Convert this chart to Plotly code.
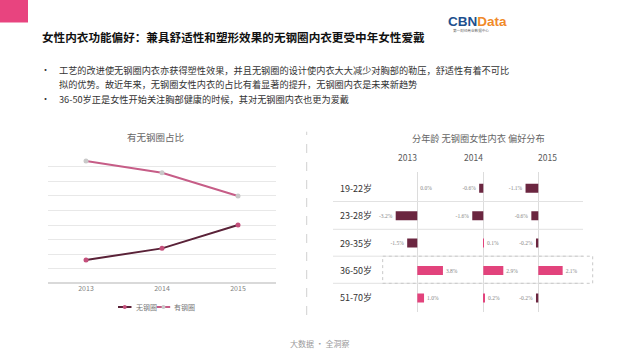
import plotly.graph_objects as go

W, H = 640, 360

# ---------------- data ----------------
years = ["2013", "2014", "2015"]
with_wire = [84, 76, 60]      # 有钢圈 (%)
without_wire = [16, 24, 40]   # 无钢圈 (%)

age_groups = ["19-22岁", "23-28岁", "29-35岁", "36-50岁", "51-70岁"]
pref_2013 = [0.0, -3.2, -1.5, 3.8, 1.0]
pref_2014 = [-0.6, -1.6, 0.1, 2.9, 0.2]
pref_2015 = [-1.1, -0.6, -0.2, 2.1, -0.2]

title_text = "女性内衣功能偏好：兼具舒适性和塑形效果的无钢圈内衣更受中年女性爱戴"
bullets = [
    "工艺的改进使无钢圈内衣亦获得塑性效果，并且无钢圈的设计使内衣大大减少对胸部的勒压，舒适性有着不可比",
    "拟的优势。故近年来，无钢圈女性内衣的占比有着显著的提升，无钢圈内衣是未来新趋势",
    "36-50岁正是女性开始关注胸部健康的时候，其对无钢圈内衣也更为爱戴",
]

FONT = "Noto Sans CJK SC"
DARK = "#6b2640"
PINK = "#e2437c"


def px(x):
    return x / W


def py(y):
    return 1 - y / H


fig = go.Figure()

# ---------------- left line chart ----------------
fig.add_trace(go.Scatter(
    x=years, y=without_wire, name="无钢圈", mode="lines+markers",
    line=dict(color="#5a2238", width=2), marker=dict(color="#c44f7b", size=5),
    xaxis="x", yaxis="y", showlegend=False))
fig.add_trace(go.Scatter(
    x=years, y=with_wire, name="有钢圈", mode="lines+markers",
    line=dict(color="#c65d87", width=2), marker=dict(color="#c9c9c9", size=5),
    xaxis="x", yaxis="y", showlegend=False))

# ---------------- right bar chart ----------------
cols = [
    ("x2", pref_2013, 417.3, 6.75, 384, 462),
    ("x3", pref_2014, 483.3, 6.9, 462, 520),
    ("x4", pref_2015, 538.3, 11.6, 520, 592),
]
for ax, vals, zero_px, scale, d0, d1 in cols:
    fig.add_trace(go.Bar(
        x=vals, y=age_groups, orientation="h", xaxis=ax, yaxis="y2",
        marker=dict(color=[PINK if v > 0 else DARK for v in vals], line=dict(width=0)),
        width=0.33, text=[f"{v:.1f}%" for v in vals], textposition="outside",
        textfont=dict(size=5.5, color="#888888", family="Liberation Serif"),
        cliponaxis=False, showlegend=False))
    key = "xaxis" + ax[1:]
    fig.layout[key] = dict(
        domain=[px(d0), px(d1)], range=[(d0 - zero_px) / scale, (d1 - zero_px) / scale],
        anchor="y2", showgrid=False, showticklabels=False, ticks="",
        zeroline=True, zerolinecolor="#dcdcdc", zerolinewidth=1, fixedrange=True)

row0, rowstep = 188.3, 27.4
ytop, ybot = 171.7, 311.7

fig.update_layout(
    width=W, height=H, margin=dict(l=0, r=0, t=0, b=0),
    paper_bgcolor="white", plot_bgcolor="rgba(0,0,0,0)",
    font=dict(family=FONT), bargap=0.5,
    xaxis=dict(domain=[px(48), px(276)], range=[-0.5, 2.5], type="category",
               showgrid=False, ticks="", tickfont=dict(size=7, color="#7f7f7f"),
               anchor="y", showline=False),
    yaxis=dict(domain=[py(283.3), py(152.3)], range=[0, 90], dtick=10,
               showgrid=True, gridcolor="#e8e8e8", gridwidth=1, zeroline=True,
               zerolinecolor="#d9d9d9", showticklabels=False, ticks="", anchor="x"),
    yaxis2=dict(domain=[py(ybot), py(ytop)], type="category",
                range=[(ybot - row0) / rowstep, (ytop - row0) / rowstep],
                showgrid=False, showticklabels=False, ticks="", zeroline=False,
                anchor="x2"),
)

shapes = []
annos = []

# header pink block
shapes.append(dict(type="rect", xref="paper", yref="paper", x0=0, x1=px(28),
                   y0=py(22.5), y1=1, fillcolor="#e8447f", line=dict(width=0)))

# title
annos.append(dict(text=f"<b>{title_text}</b>", x=px(40), y=py(36.7), xanchor="left",
                  yanchor="middle", font=dict(size=11.6, color="#111111")))

# logo
annos.append(dict(text="<b><span style='color:#1d4f8e'>CBN</span><span style='color:#f08a2a'>Data</span></b>",
                  x=px(477), y=py(21), xanchor="center", yanchor="middle",
                  font=dict(size=13.5, family="Liberation Sans")))
annos.append(dict(text="第一财经商业数据中心", x=px(451), y=py(30.5), xanchor="left",
                  yanchor="middle", font=dict(size=3.6, color="#666666")))

# bullets
for txt, y, dot in [(bullets[0], 70, True), (bullets[1], 83.5, False), (bullets[2], 98.5, True)]:
    if dot:
        annos.append(dict(text="•", x=px(45), y=py(y), xanchor="center", yanchor="middle",
                          font=dict(size=9, color="#333333")))
    annos.append(dict(text=txt, x=px(56.7), y=py(y), xanchor="left", yanchor="middle",
                      font=dict(size=9.2, color="#333333")))

# left chart title
annos.append(dict(text="有无钢圈占比", x=px(155), y=py(137), xanchor="center", yanchor="middle",
                  font=dict(size=9.5, color="#666666")))

# manual legend
leg = [("无钢圈", "#5a2238", "#c44f7b", 118, 134), ("有钢圈", "#c65d87", "#c9c9c9", 156.7, 172)]
for name, lc, mc, x0, tx in leg:
    shapes.append(dict(type="line", xref="paper", yref="paper", x0=px(x0), x1=px(x0 + 13.5),
                       y0=py(307), y1=py(307), line=dict(color=lc, width=2)))
    cx = x0 + 6.75
    shapes.append(dict(type="circle", xref="paper", yref="paper", x0=px(cx - 2), x1=px(cx + 2),
                       y0=py(309), y1=py(305), fillcolor=mc, line=dict(width=0)))
    annos.append(dict(text=name, x=px(tx), y=py(307), xanchor="left", yanchor="middle",
                      font=dict(size=7, color="#777777")))

# right chart title & headers
annos.append(dict(text="分年龄 无钢圈女性内衣 偏好分布", x=px(478.3), y=py(138), xanchor="center",
                  yanchor="middle", font=dict(size=9.2, color="#666666")))
for yr, x in zip(years, [407, 473, 547]):
    annos.append(dict(text=yr, x=px(x), y=py(157), xanchor="center", yanchor="middle",
                      font=dict(size=8.5, color="#595959")))

# row labels
for g in age_groups:
    annos.append(dict(text=g, x=px(338), xref="paper", y=g, yref="y2", xanchor="left",
                      yanchor="middle", font=dict(size=9, color="#333333")))

# separators
for ysep in [201.5, 229.3, 256.2, 283.3]:
    shapes.append(dict(type="line", xref="paper", yref="paper", x0=px(333), x1=px(583),
                       y0=py(ysep), y1=py(ysep), line=dict(color="#e2e2e2", width=1)))
# highlight dashed box
shapes.append(dict(type="rect", xref="paper", yref="paper", x0=px(382.7), x1=px(592.7),
                   y0=py(283.3), y1=py(256.2), line=dict(color="#c8c8c8", width=1, dash="dot")))
# left dashed vertical divider
shapes.append(dict(type="line", xref="paper", yref="paper", x0=px(306.7), x1=px(306.7),
                   y0=py(315), y1=py(131.7), line=dict(color="#d0d0d0", width=1, dash="dash")))

# footer
annos.append(dict(text="大数据 · 全洞察", x=px(320), y=py(343), xanchor="center", yanchor="middle",
                  font=dict(size=8, color="#9a9a9a")))

for a in annos:
    a.setdefault("xref", "paper")
    a.setdefault("yref", "paper")
    a["showarrow"] = False

fig.update_layout(shapes=shapes, annotations=annos)
fig.write_html("out.html", config={"displayModeBar": False},
               post_script="document.body.style.margin='0';document.body.style.overflow='hidden';")
